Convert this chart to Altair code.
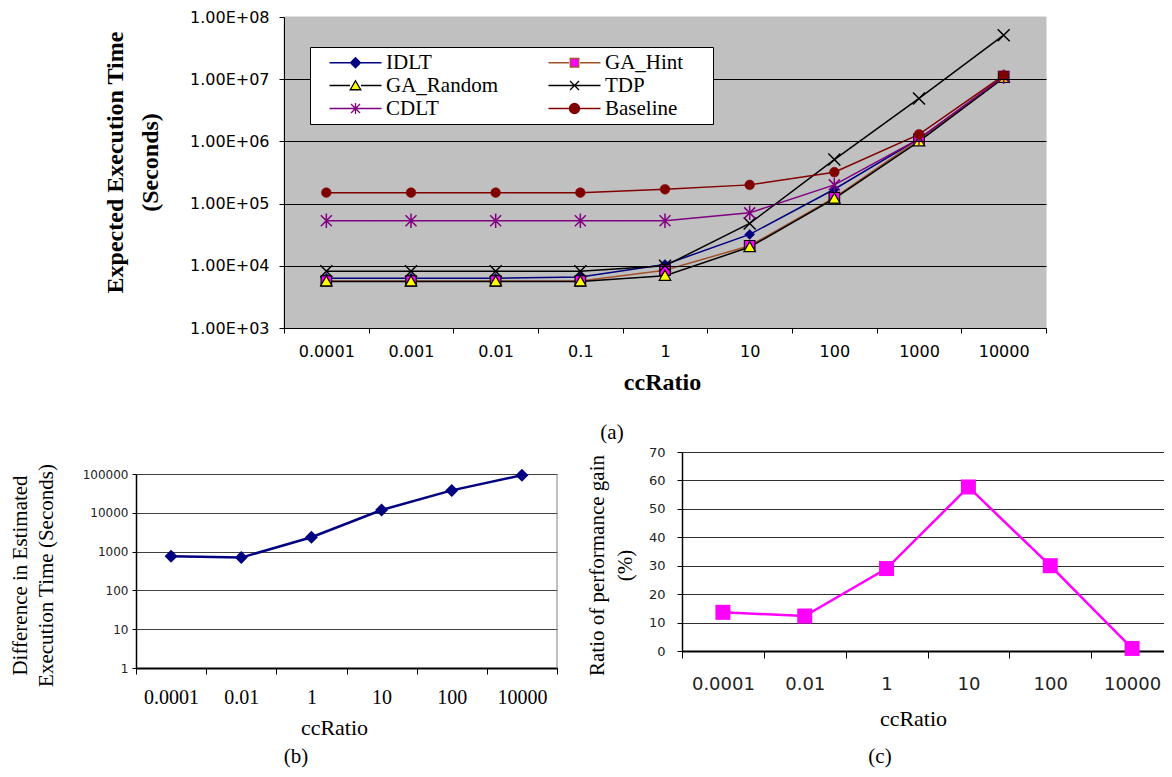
import altair as alt
import pandas as pd

# ---------------- data ----------------
cats_a = ["0.0001", "0.001", "0.01", "0.1", "1", "10", "100", "1000", "10000"]
series_names = ["IDLT", "GA_Hint", "GA_Random", "TDP", "CDLT", "Baseline"]
idlt = [6.3e3, 6.3e3, 6.3e3, 6.6e3, 1.05e4, 3.2e4, 1.7e5, 1.1e6, 1.07e7]
ga_hint = [5.7e3, 5.7e3, 5.7e3, 5.7e3, 8.5e3, 2.1e4, 1.25e5, 1.08e6, 1.1e7]
ga_random = [5.6e3, 5.6e3, 5.6e3, 5.6e3, 6.9e3, 2.0e4, 1.2e5, 1.0e6, 1.05e7]
tdp = [8.2e3, 8.2e3, 8.2e3, 8.2e3, 1.0e4, 4.8e4, 5.1e5, 4.9e6, 5.1e7]
cdlt = [5.3e4, 5.3e4, 5.3e4, 5.3e4, 5.3e4, 7.1e4, 2.0e5, 1.1e6, 1.1e7]
baseline = [1.5e5, 1.5e5, 1.5e5, 1.5e5, 1.7e5, 2.0e5, 3.2e5, 1.3e6, 1.15e7]
y_ticks_a = [1e3, 1e4, 1e5, 1e6, 1e7, 1e8]
# legend reading order (filled column by column: 3 rows x 2 columns)
legend_order = ["IDLT", "GA_Random", "CDLT", "GA_Hint", "TDP", "Baseline"]

cats_bc = ["0.0001", "0.01", "1", "10", "100", "10000"]
diff_b = [760, 700, 2350, 11800, 37800, 93000]
y_ticks_b = [1, 10, 100, 1000, 10000, 100000]
gain_c = [13.6, 12.3, 29.0, 57.7, 30.0, 0.9]
y_ticks_c = [0, 10, 20, 30, 40, 50, 60, 70]

captions = ["(a)", "(b)", "(c)"]

# ---------------- styles ----------------
W, H = 1156, 761
SERIF = "Liberation Serif"
SANS = "DejaVu Sans"

line_colors = {"IDLT": "#000080", "GA_Hint": "#A0522D", "GA_Random": "#000000",
               "TDP": "#000000", "CDLT": "#800080", "Baseline": "#800000"}
marker_fill = {"IDLT": "#000080", "GA_Hint": "#FF00FF", "GA_Random": "#FFFF00",
               "TDP": "transparent", "CDLT": "transparent", "Baseline": "#800000"}

DIAMOND = "M0,-1L1,0L0,1L-1,0Z"
SQUARE = "M-1.05,-1.05H1.05V1.05H-1.05Z"
TRIANGLE = "M0,-1.1L1.15,0.9H-1.15Z"
XMARK = "M-1.2,-1.2L1.2,1.2M-1.2,1.2L1.2,-1.2"
STAR = "M-1.1,-1.1L1.1,1.1M-1.1,1.1L1.1,-1.1M0,-1.45V1.45"

point_styles = {
    "IDLT": dict(shape=DIAMOND, size=100, filled=True, fill="#000080", stroke="#000080", strokeWidth=0.5),
    "GA_Hint": dict(shape=SQUARE, size=100, filled=True, fill="#FF00FF", stroke="#000000", strokeWidth=1.2),
    "GA_Random": dict(shape=TRIANGLE, size=100, filled=True, fill="#FFFF00", stroke="#000000", strokeWidth=1.2),
    "TDP": dict(shape=XMARK, size=100, filled=False, stroke="#000000", strokeWidth=1.5),
    "CDLT": dict(shape=STAR, size=100, filled=False, stroke="#800080", strokeWidth=1.5),
    "Baseline": dict(shape="circle", size=95, filled=True, fill="#800000", stroke="#800000", strokeWidth=0.5),
}

R_EXT = "M26,0"
LINE_BROKEN = "M-5.2,0H-1.1M1.1,0H5.2"
LINE_FULL = "M-5.2,0H5.2"
legend_paths = {
    "IDLT": LINE_BROKEN + "M0,-1L1,0L0,1L-1,0Z",
    "GA_Hint": LINE_BROKEN + "M-0.85,-0.85H0.85V0.85H-0.85Z" + R_EXT,
    "GA_Random": LINE_BROKEN + "M0,-0.95L1.05,0.85H-1.05Z",
    "TDP": LINE_FULL + "M-0.9,-0.9L0.9,0.9M-0.9,0.9L0.9,-0.9" + R_EXT,
    "CDLT": LINE_FULL + "M-0.9,-0.9L0.9,0.9M-0.9,0.9L0.9,-0.9M0,-1.1V1.1",
    "Baseline": LINE_BROKEN + "M-1,0A1,1,0,1,1,1,0A1,1,0,1,1,-1,0Z" + R_EXT,
}

# plot-area placement (chart coordinates)
XA, YA = [276, 1038], [320, 9]
XB, YB = [128, 549], [660, 466]
XC, YC = [674, 1165], [643, 444]

# ---------------- chart (a) ----------------
series_values = {"IDLT": idlt, "GA_Hint": ga_hint, "GA_Random": ga_random,
                 "TDP": tdp, "CDLT": cdlt, "Baseline": baseline}
rows = []
for s, vals in series_values.items():
    for i, (c, v) in enumerate(zip(cats_a, vals)):
        rows.append({"series": s, "cat": c, "idx": i, "value": v})
df_a = pd.DataFrame(rows)
df_bg = pd.DataFrame({"cat": cats_a, "lo": [y_ticks_a[0]] * len(cats_a), "hi": [y_ticks_a[-1]] * len(cats_a)})

scale_xa = alt.Scale(type="band", domain=cats_a, range=XA, paddingInner=0, paddingOuter=0)
scale_ya = alt.Scale(type="log", domain=[y_ticks_a[0], y_ticks_a[-1]], range=YA, nice=False)

axis_xa = alt.Axis(orient="bottom", offset=YA[0] - H, title="ccRatio", titleX=654, titleY=54,
                   titleFont=SERIF, titleFontSize=24, titleFontWeight="bold", titleBaseline="middle",
                   titleAlign="center", titleColor="black",
                   labelFont=SANS, labelFontSize=16, labelAngle=0, labelPadding=10, labelColor="black",
                   tickSize=5, tickBand="extent", tickColor="black", grid=False,
                   domainColor="black", zindex=1)
axis_ya = alt.Axis(orient="left", offset=-XA[0], values=y_ticks_a,
                   labelExpr="'1.00E+0' + round(log(datum.value)/LN10)",
                   labelFont=SANS, labelFontSize=16, labelPadding=10, labelColor="black", labelFlush=False,
                   tickSize=5, tickColor="black", domainColor="black",
                   grid=True, gridColor="black", gridWidth=1,
                   gridOpacity={"condition": {"test": "datum.value > 5e7", "value": 0}, "value": 1},
                   title=["Expected Execution Time", "(Seconds)"], titleX=-169, titleY=154,
                   titleAngle=270, titleAlign="center", titleBaseline="middle",
                   titleFont=SERIF, titleFontSize=24, titleFontWeight="bold", titleLineHeight=35,
                   titleColor="black", zindex=1)

enc_xa = alt.X("cat:N", scale=scale_xa, axis=axis_xa)
enc_ya = alt.Y("value:Q", scale=scale_ya, axis=axis_ya)

bg_a = alt.Chart(df_bg).mark_rect(color="#C0C0C0", stroke="#C0C0C0", strokeWidth=1).encode(
    x=enc_xa,
    y=alt.Y("lo:Q", scale=scale_ya, axis=axis_ya),
    y2="hi:Q",
)

line_layers = []
point_layers = []
for s in series_names:
    sub = alt.Chart(df_a).transform_filter(alt.datum.series == s)
    line_layers.append(
        sub.mark_line(strokeWidth=1.5, color=line_colors[s]).encode(x=enc_xa, y=enc_ya, order="idx:Q")
    )
    point_layers.append(
        sub.mark_point(opacity=1, **point_styles[s]).encode(x=enc_xa, y=enc_ya)
    )

legend_a = alt.Legend(title=None, orient="none", legendX=302, legendY=39, columns=2, padding=5,
                      fillColor="white", strokeColor="black", symbolSize=100, symbolStrokeWidth=1.3,
                      symbolOpacity=1, symbolOffset=30, labelFont=SERIF, labelFontSize=21,
                      labelColor="black", labelOffset=20, columnPadding=36, rowPadding=1,
                      labelLimit=400, zindex=2)

# invisible layer whose only job is to carry the legend (line + marker symbols)
legend_layer = alt.Chart(df_a).mark_point(filled=True, opacity=0).encode(
    x=enc_xa, y=enc_ya,
    shape=alt.Shape("series:N", scale=alt.Scale(domain=legend_order,
                                                range=[legend_paths[s] for s in legend_order]),
                    legend=legend_a),
    fill=alt.Fill("series:N", scale=alt.Scale(domain=legend_order,
                                              range=[marker_fill[s] for s in legend_order]),
                  legend=legend_a),
    stroke=alt.Stroke("series:N", scale=alt.Scale(domain=legend_order,
                                                  range=[line_colors[s] for s in legend_order]),
                      legend=legend_a),
)

chart_a = alt.layer(bg_a, *line_layers, *point_layers, legend_layer)

# ---------------- chart (b) ----------------
df_b = pd.DataFrame({"cat": cats_bc, "idx": list(range(len(cats_bc))), "value": diff_b})
axis_xb = alt.Axis(orient="bottom", offset=YB[0] - H, title="ccRatio", titleX=326, titleY=59,
                   titleFont=SERIF, titleFontSize=22, titleFontWeight="normal", titleBaseline="middle",
                   titleAlign="center", titleColor="black",
                   labelFont=SERIF, labelFontSize=20, labelAngle=0, labelPadding=13, labelColor="black",
                   tickSize=6, tickBand="extent", tickColor="black", grid=False,
                   domainColor="black", domainWidth=2)
axis_yb = alt.Axis(orient="left", offset=-XB[0], values=y_ticks_b, format="d",
                   labelFont=SANS, labelFontSize=12, labelPadding=4, labelColor="#222222", labelFlush=False,
                   tickSize=4, tickColor="black", domainColor="black", domainWidth=1.5,
                   grid=True, gridColor="#404040", gridWidth=1,
                   title=["Difference in Estimated", "Execution Time (Seconds)"], titleX=-116, titleY=567,
                   titleAngle=270, titleAlign="center", titleBaseline="middle",
                   titleFont=SERIF, titleFontSize=21, titleFontWeight="normal", titleLineHeight=26,
                   titleColor="black")
chart_b = alt.Chart(df_b).mark_line(
    color="#000080", strokeWidth=2.5,
    point=alt.OverlayMarkDef(shape=DIAMOND, size=169, filled=True, color="#000080", opacity=1),
).encode(
    x=alt.X("cat:N", scale=alt.Scale(type="band", domain=cats_bc, range=XB, paddingInner=0, paddingOuter=0),
            axis=axis_xb),
    y=alt.Y("value:Q", scale=alt.Scale(type="log", domain=[y_ticks_b[0], y_ticks_b[-1]], range=YB, nice=False),
            axis=axis_yb),
    order="idx:Q",
)

# ---------------- chart (c) ----------------
df_c = pd.DataFrame({"cat": cats_bc, "idx": list(range(len(cats_bc))), "value": gain_c})
axis_xc = alt.Axis(orient="bottom", offset=YC[0] - H, title="ccRatio", titleX=905, titleY=67,
                   titleFont=SERIF, titleFontSize=22, titleFontWeight="normal", titleBaseline="middle",
                   titleAlign="center", titleColor="black",
                   labelFont=SANS, labelFontSize=18, labelAngle=0, labelPadding=17, labelColor="#222222",
                   tickSize=7, tickBand="extent", tickColor="black", grid=False,
                   domainColor="black", domainWidth=2)
axis_yc = alt.Axis(orient="left", offset=-XC[0], values=y_ticks_c,
                   labelFont=SANS, labelFontSize=13, labelPadding=12, labelColor="#222222", labelFlush=False,
                   tickSize=5, tickColor="black", domainColor="black", domainWidth=1.5,
                   grid=True, gridColor="#303030", gridWidth=1,
                   title=["Ratio of performance gain", "(%)"], titleX=-85, titleY=557,
                   titleAngle=270, titleAlign="center", titleBaseline="middle",
                   titleFont=SERIF, titleFontSize=21, titleFontWeight="normal", titleLineHeight=28,
                   titleColor="black")
chart_c = alt.Chart(df_c).mark_line(
    color="#FF00FF", strokeWidth=2.5,
    point=alt.OverlayMarkDef(shape="M-1,-1H1V1H-1Z", size=225, filled=True, color="#FF00FF", opacity=1),
).encode(
    x=alt.X("cat:N", scale=alt.Scale(type="band", domain=cats_bc, range=XC, paddingInner=0, paddingOuter=0),
            axis=axis_xc),
    y=alt.Y("value:Q", scale=alt.Scale(type="linear", domain=[y_ticks_c[0], y_ticks_c[-1]], range=YC,
                                       nice=False, zero=False),
            axis=axis_yc),
    order="idx:Q",
)

# ---------------- frame line and captions ----------------
frame_b = alt.Chart(pd.DataFrame({"k": [0]})).mark_rule(color="#808080", strokeWidth=1).encode(
    x=alt.value(XB[1]), y=alt.value(YB[1]), y2=alt.value(YB[0])
)
caption_pos = [(604, 425), (288, 749), (872, 749)]
caption_layers = []
for text, (cx, cy) in zip(captions, caption_pos):
    caption_layers.append(
        alt.Chart(pd.DataFrame({"t": [text]})).mark_text(
            font=SERIF, fontSize=21, align="center", baseline="middle", color="black"
        ).encode(text="t:N", x=alt.value(cx), y=alt.value(cy))
    )

chart = alt.layer(chart_a, chart_b, chart_c, frame_b, *caption_layers).resolve_scale(
    x="independent", y="independent"
).properties(
    width=W, height=H, padding=0, autosize=alt.AutoSizeParams(type="none")
).configure_view(stroke=None)

chart.save("out.html", embed_options={"renderer": "svg", "actions": False})
